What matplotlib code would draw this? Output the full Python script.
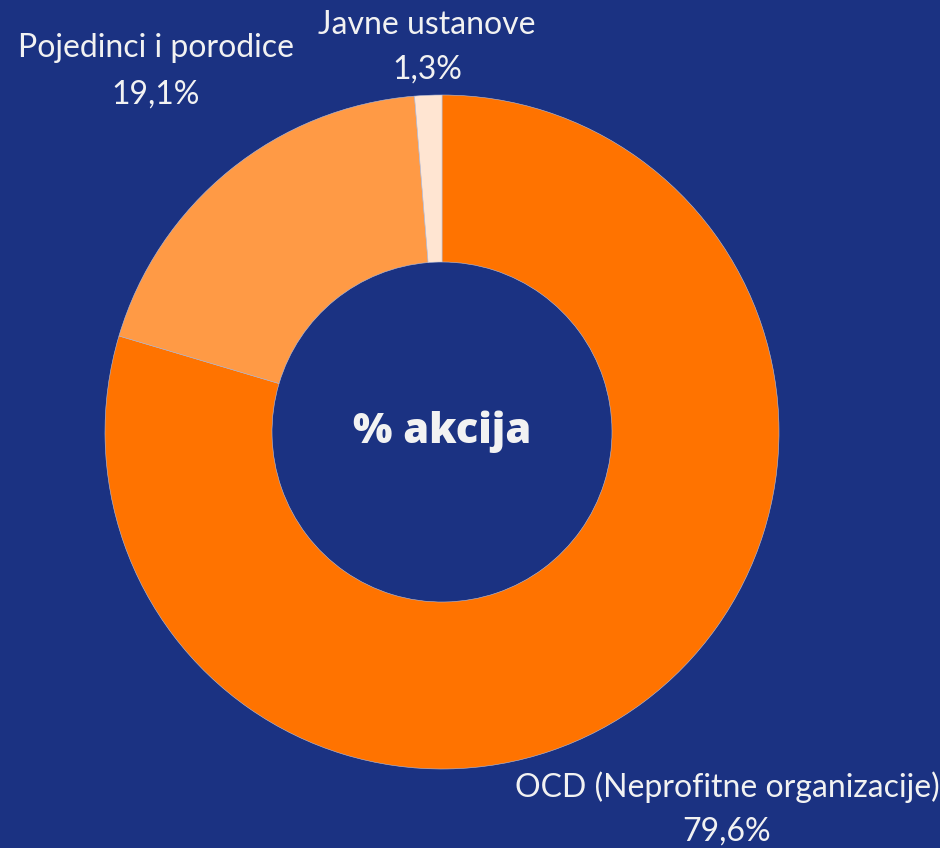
import matplotlib
matplotlib.use('Agg')
import matplotlib.pyplot as plt

# Donut chart: share of actions by organiser type.

labels = ['OCD (Neprofitne organizacije)', 'Pojedinci i porodice', 'Javne ustanove']
values = [79.6, 19.1, 1.3]
value_texts = ['79,6%', '19,1%', '1,3%']
colors = ['#ff7300', '#ff9a45', '#ffe5d2']

BG = '#1b3282'
TEXT = '#f2f2f2'

W, H = 940, 848
fig = plt.figure(figsize=(W / 100, H / 100), dpi=100)
fig.patch.set_facecolor(BG)
ax = fig.add_axes([0, 0, 1, 1])
ax.set_facecolor(BG)

cx, cy = 442, H - 432
r_out = 337
r_in = 170

ax.pie(values, colors=colors, startangle=90, counterclock=False,
       radius=r_out, center=(cx, cy),
       wedgeprops=dict(width=r_out - r_in, edgecolor='#b8bfd8', linewidth=0.4))

ax.set_xlim(0, W)
ax.set_ylim(0, H)
ax.set_aspect('equal')
ax.axis('off')

# label positions in pixels (x centre, y of first line, y of second line)
label_pos = [(727, 787, 832), (156, 48, 95), (427, 25, 70)]
for lab, vt, (x, y1, y2) in zip(labels, value_texts, label_pos):
    ax.text(x, H - y1, lab, ha='center', va='center', color=TEXT,
            fontsize=23, family='Lato')
    ax.text(x, H - y2, vt, ha='center', va='center', color=TEXT,
            fontsize=23, family='Lato')

ax.text(cx, cy, '% akcija', ha='center', va='center', color=TEXT,
        fontsize=30, fontweight='heavy', family='Open Sans')

fig.savefig('out.png', dpi=100, facecolor=BG)
